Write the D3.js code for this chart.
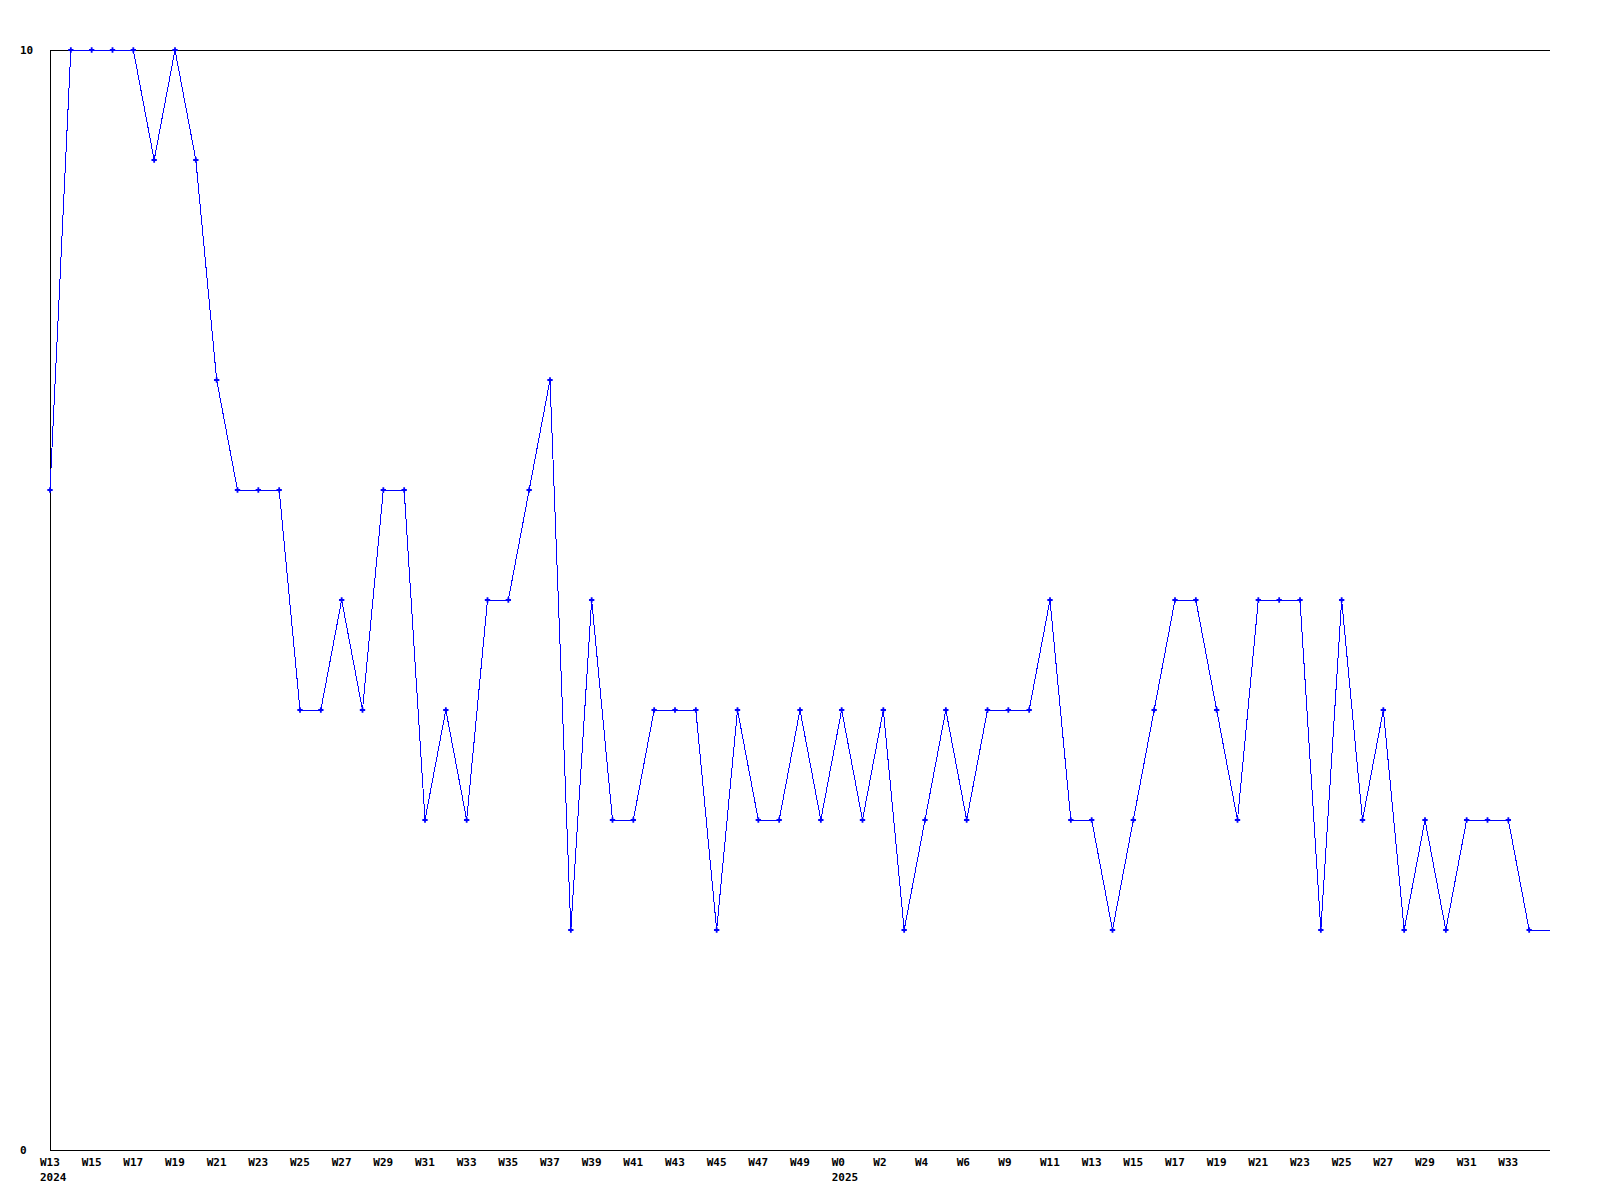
<!DOCTYPE html>
<html>
<head>
<meta charset="utf-8">
<script src="https://cdn.jsdelivr.net/npm/d3@7"></script>
<style>
  html, body { margin: 0; padding: 0; background: #fff; }
  svg { display: block; }
  text { font-family: "DejaVu Sans Mono", "Liberation Mono", monospace; font-weight: bold; font-size: 11px; fill: #000; }
</style>
</head>
<body>
<script>
// Weekly values (index 0 = 2024 W13)
const values = [6,10,10,10,10,9,10,9,7,6,6,6,4,4,5,4,6,6,3,4,3,5,5,6,7,2,5,3,3,4,4,4,2,4,3,3,4,3,4,3,4,2,3,4,3,4,4,4,5,3,3,2,3,4,5,5,4,3,5,5,5,2,5,3,4,2,3,2,3,3,3,2,2];
// Tick labels, one every second point
const tickLabels = ["W13","W15","W17","W19","W21","W23","W25","W27","W29","W31","W33","W35","W37","W39","W41","W43","W45","W47","W49",
                    "W0","W2","W4","W6","W9","W11","W13","W15","W17","W19","W21","W23","W25","W27","W29","W31","W33"];
const tickStep = 2;
// Year labels and the tick index they sit under
const yearLabels = ["2024","2025"];
const yearTickIdx = [0, 19];
const yTicks = [0, 10];

(function () {
const W = 1600, H = 1200;
const mLeft = 50, mRight = 1550, mTop = 50, mBottom = 1150;

const svg = d3.select("body").append("svg").attr("width", W).attr("height", H);

const x = d3.scaleLinear().domain([0, values.length - 1]).range([mLeft, mRight]);
const y = d3.scaleLinear().domain([0, 10]).range([mBottom, mTop]);

// frame: left, top, bottom lines
const frame = svg.append("g").attr("stroke", "#000").attr("stroke-width", 1).attr("shape-rendering", "crispEdges");
frame.append("line").attr("x1", mLeft + 0.5).attr("x2", mLeft + 0.5).attr("y1", y(10)).attr("y2", y(0) + 0.5);
frame.append("line").attr("x1", mLeft).attr("x2", mRight).attr("y1", y(10) + 0.5).attr("y2", y(10) + 0.5);
frame.append("line").attr("x1", mLeft).attr("x2", mRight).attr("y1", y(0) + 0.5).attr("y2", y(0) + 0.5);

// y labels
svg.append("g").selectAll("text").data(yTicks).join("text")
  .attr("x", 20).attr("y", d => y(d)).attr("dy", "0.35em")
  .text(d => d);

// x labels
svg.append("g").selectAll("text").data(tickLabels).join("text")
  .attr("x", (d, i) => x(i * tickStep) - 10).attr("y", mBottom + 16)
  .text(d => d);
svg.append("g").selectAll("text").data(yearLabels).join("text")
  .attr("x", (d, i) => x(yearTickIdx[i] * tickStep) - 10).attr("y", mBottom + 31)
  .text(d => d);

// line
const line = d3.line().x((d, i) => x(i)).y(d => y(d));
svg.append("path").datum(values)
  .attr("d", line)
  .attr("fill", "none").attr("stroke", "#0000ff").attr("stroke-width", 1)
  .attr("shape-rendering", "crispEdges");

// markers (all but the last, which the line only runs to)
svg.append("g").selectAll("path").data(values.slice(0, -1)).join("path")
  .attr("transform", (d, i) => `translate(${x(i)},${y(d)})`)
  .attr("d", d3.symbol(d3.symbolCross, 16))
  .attr("fill", "#0000ff");
})();
</script>
</body>
</html>
